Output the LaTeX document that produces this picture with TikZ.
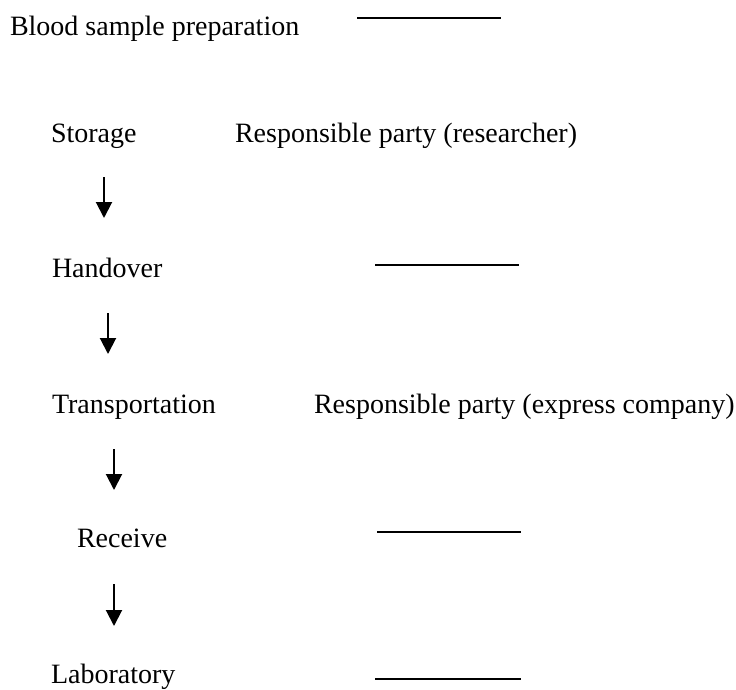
\documentclass[tikz,border=0pt]{standalone}
\usepackage{fontspec}
\setmainfont{Liberation Serif}
\usetikzlibrary{arrows.meta}

\tikzset{
  lbl/.style={anchor=base west, inner sep=0pt, outer sep=0pt,
              font=\fontsize{28}{30}\selectfont},
  flow/.style={line width=2pt, -{Triangle[width=16pt,length=16pt]}},
  blank/.style={line width=1.8pt}
}

\begin{document}
\begin{tikzpicture}[x=1pt,y=-1pt]
  \useasboundingbox (0,0) rectangle (736,689);

  % stage labels
  \node[lbl] (prep)    at (10,35)  {Blood sample preparation};
  \node[lbl] (storage) at (51,142) {Storage};
  \node[lbl] (resp1)   at (235,142) {Responsible party (researcher)};
  \node[lbl] (hand)    at (52,277) {Handover};
  \node[lbl] (trans)   at (52,413) {Transportation};
  \node[lbl] (resp2)   at (314,413) {Responsible party (express company)};
  \node[lbl] (recv)    at (77,547) {Receive};
  \node[lbl] (lab)     at (51,683) {Laboratory};

  % blank lines to be filled in
  \coordinate (b1a) at (357,18);  \coordinate (b1b) at (501,18);
  \coordinate (b2a) at (375,265); \coordinate (b2b) at (519,265);
  \coordinate (b3a) at (377,532); \coordinate (b3b) at (521,532);
  \coordinate (b4a) at (375,679); \coordinate (b4b) at (521,679);
  \draw[blank] (b1a) -- (b1b);
  \draw[blank] (b2a) -- (b2b);
  \draw[blank] (b3a) -- (b3b);
  \draw[blank] (b4a) -- (b4b);

  % flow arrows between stages
  \coordinate (a1s) at (104,177); \coordinate (a1e) at (104,218);
  \coordinate (a2s) at (108,313); \coordinate (a2e) at (108,354);
  \coordinate (a3s) at (114,449); \coordinate (a3e) at (114,490);
  \coordinate (a4s) at (114,584); \coordinate (a4e) at (114,626);
  \draw[flow] (a1s) -- (a1e);
  \draw[flow] (a2s) -- (a2e);
  \draw[flow] (a3s) -- (a3e);
  \draw[flow] (a4s) -- (a4e);
\end{tikzpicture}
\end{document}
